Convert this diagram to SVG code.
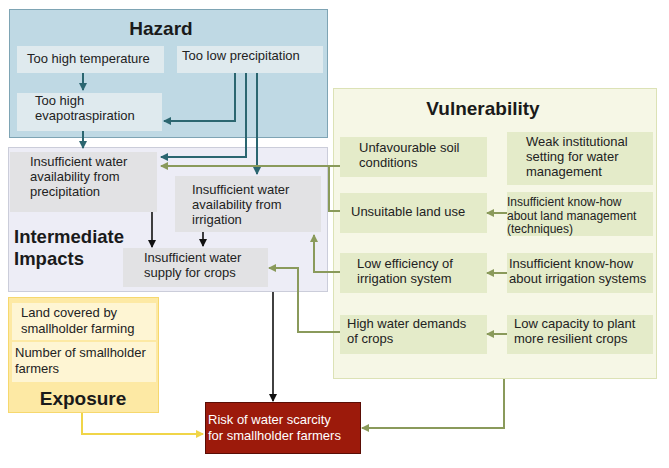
<svg xmlns="http://www.w3.org/2000/svg" width="669" height="468" viewBox="0 0 669 468">
  <defs>
    <marker id="ah-teal" markerWidth="8" markerHeight="8" refX="7" refY="4" orient="auto" markerUnits="userSpaceOnUse">
      <path d="M0,0 L8,4 L0,8 Z" fill="#2b6670"/>
    </marker>
    <marker id="ah-green" markerWidth="8" markerHeight="8" refX="7" refY="4" orient="auto" markerUnits="userSpaceOnUse">
      <path d="M0,0 L8,4 L0,8 Z" fill="#8a9a5b"/>
    </marker>
    <marker id="ah-black" markerWidth="8" markerHeight="8" refX="7" refY="4" orient="auto" markerUnits="userSpaceOnUse">
      <path d="M0,0 L8,4 L0,8 Z" fill="#111"/>
    </marker>
    <marker id="ah-yellow" markerWidth="8" markerHeight="8" refX="7" refY="4" orient="auto" markerUnits="userSpaceOnUse">
      <path d="M0,0 L8,4 L0,8 Z" fill="#f0d548"/>
    </marker>
  </defs>
  <style>
    text { font-family: "Liberation Sans", Arial, sans-serif; font-size: 13px; fill: #222; }
    .title { font-weight: bold; font-size: 19px; fill: #1a1a1a; }
    .small { font-size: 12px; }
    .hz-box { fill: #bfd9e4; stroke: #7ea4b4; stroke-width: 1; }
    .hz-item { fill: #dfeaee; }
    .im-box { fill: #ededf6; stroke: #cbcdda; stroke-width: 1; }
    .im-item { fill: #e2e2e4; }
    .vu-box { fill: #f6f7e6; stroke: #dce2b6; stroke-width: 1; }
    .vu-item { fill: #e4ebc9; }
    .ex-box { fill: #fde9a4; stroke: #f6d86e; stroke-width: 1; }
    .ex-item { fill: #fef5d3; }
    .risk-box { fill: #9c1a0b; stroke: #5a0d05; stroke-width: 1; }
    .risk-text { fill: #ffffff; }
    .c-teal { fill: none; stroke: #2b6670; stroke-width: 2; }
    .c-green { fill: none; stroke: #8a9a5b; stroke-width: 2; }
    .c-black { fill: none; stroke: #111; stroke-width: 1.6; }
    .c-yellow { fill: none; stroke: #f0d548; stroke-width: 2; }
  </style>

  <!-- Hazard panel -->
  <g id="hazard">
    <rect class="hz-box" x="9.5" y="9.5" width="318" height="128"/>
    <text class="title" x="161" y="35" text-anchor="middle">Hazard</text>
  </g>
  <g id="too-high-temperature">
    <rect class="hz-item" x="17" y="46" width="147" height="27"/>
    <text x="27" y="63">Too high temperature</text>
  </g>
  <g id="too-low-precipitation">
    <rect class="hz-item" x="177" y="46" width="146" height="27"/>
    <text x="182" y="60">Too low precipitation</text>
  </g>
  <g id="too-high-evapotraspiration">
    <rect class="hz-item" x="17" y="93" width="145" height="38"/>
    <text x="35" y="105">Too high</text>
    <text x="35" y="120">evapotraspiration</text>
  </g>

  <!-- Intermediate impacts panel -->
  <g id="intermediate-impacts">
    <rect class="im-box" x="8.5" y="147.5" width="319" height="144"/>
    <text class="title" x="14" y="243" style="font-size:18.5px">Intermediate</text>
    <text class="title" x="14" y="265" style="font-size:18.5px">Impacts</text>
  </g>
  <g id="water-from-precipitation">
    <rect class="im-item" x="10" y="152" width="147" height="60"/>
    <text x="30" y="166">Insufficient water</text>
    <text x="30" y="181">availability from</text>
    <text x="30" y="196">precipitation</text>
  </g>
  <g id="water-from-irrigation">
    <rect class="im-item" x="175" y="176" width="146" height="56"/>
    <text x="192" y="194">Insufficient water</text>
    <text x="192" y="209">availability from</text>
    <text x="192" y="224">irrigation</text>
  </g>
  <g id="water-supply-for-crops">
    <rect class="im-item" x="123" y="248" width="145" height="39"/>
    <text x="144" y="262">Insufficient water</text>
    <text x="144" y="277">supply for crops</text>
  </g>

  <!-- Vulnerability panel -->
  <g id="vulnerability">
    <rect class="vu-box" x="333.5" y="88.5" width="323" height="290"/>
    <text class="title" x="483" y="115" text-anchor="middle">Vulnerability</text>
  </g>
  <g id="unfavourable-soil">
    <rect class="vu-item" x="340" y="137" width="147" height="40"/>
    <text x="359" y="152">Unfavourable soil</text>
    <text x="359" y="167">conditions</text>
  </g>
  <g id="weak-institutional-setting">
    <rect class="vu-item" x="507" y="132" width="146" height="53"/>
    <text x="526" y="146">Weak institutional</text>
    <text x="526" y="161">setting for water</text>
    <text x="526" y="176">management</text>
  </g>
  <g id="unsuitable-land-use">
    <rect class="vu-item" x="340" y="193" width="147" height="40"/>
    <text x="351" y="216">Unsuitable land use</text>
  </g>
  <g id="land-management-know-how">
    <rect class="vu-item" x="507" y="192" width="146" height="44"/>
    <text class="small" x="507" y="206">Insufficient know-how</text>
    <text class="small" x="507" y="220">about land management</text>
    <text class="small" x="507" y="233">(techniques)</text>
  </g>
  <g id="low-irrigation-efficiency">
    <rect class="vu-item" x="340" y="253" width="147" height="40"/>
    <text x="357" y="268">Low efficiency of</text>
    <text x="357" y="283">irrigation system</text>
  </g>
  <g id="irrigation-know-how">
    <rect class="vu-item" x="507" y="253" width="146" height="40"/>
    <text x="509" y="268">Insufficient know-how</text>
    <text x="509" y="283">about irrigation systems</text>
  </g>
  <g id="high-water-demands">
    <rect class="vu-item" x="340" y="315" width="147" height="39"/>
    <text x="347" y="328">High water demands</text>
    <text x="347" y="343">of crops</text>
  </g>
  <g id="low-capacity-resilient-crops">
    <rect class="vu-item" x="507" y="315" width="146" height="39"/>
    <text x="514" y="328">Low capacity to plant</text>
    <text x="514" y="343">more resilient crops</text>
  </g>

  <!-- Exposure panel -->
  <g id="exposure">
    <rect class="ex-box" x="8.5" y="297.5" width="150" height="115"/>
    <text class="title" x="83" y="405" text-anchor="middle">Exposure</text>
  </g>
  <g id="land-covered">
    <rect class="ex-item" x="12" y="303" width="144" height="37"/>
    <text x="21" y="317">Land covered by</text>
    <text x="21" y="333">smallholder farming</text>
  </g>
  <g id="number-of-farmers">
    <rect class="ex-item" x="12" y="342" width="144" height="40"/>
    <text x="15" y="357">Number of smallholder</text>
    <text x="15" y="373">farmers</text>
  </g>

  <!-- Outcome -->
  <g id="risk-of-water-scarcity">
    <rect class="risk-box" x="205.5" y="402.5" width="155" height="51"/>
    <text class="risk-text" x="208" y="424">Risk of water scarcity</text>
    <text class="risk-text" x="208" y="440">for smallholder farmers</text>
  </g>

  <!-- Connectors -->
  <g id="connectors">
    <!-- hazard chain -->
    <path class="c-teal" d="M83,73 V90" marker-end="url(#ah-teal)"/>
    <path class="c-teal" d="M83,131 V148" marker-end="url(#ah-teal)"/>
    <path class="c-teal" d="M235,73 V121 H164" marker-end="url(#ah-teal)"/>
    <path class="c-teal" d="M246,73 V157 H161" marker-end="url(#ah-teal)"/>
    <path class="c-teal" d="M257,73 V174" marker-end="url(#ah-teal)"/>

    <!-- intermediate impacts to supply -->
    <path class="c-black" d="M152,212 V247" marker-end="url(#ah-black)"/>
    <path class="c-black" d="M203,232 V246" marker-end="url(#ah-black)"/>
    <path class="c-black" d="M273,292 V401" marker-end="url(#ah-black)"/>

    <!-- vulnerability links -->
    <path class="c-green" d="M340,166 H161" marker-end="url(#ah-green)"/>
    <path class="c-green" d="M340,211 H329 V166"/>
    <path class="c-green" d="M340,272 H314 V235" marker-end="url(#ah-green)"/>
    <path class="c-green" d="M340,332 H298 V268 H269" marker-end="url(#ah-green)"/>
    <path class="c-green" d="M507,213 H487" marker-end="url(#ah-green)"/>
    <path class="c-green" d="M507,273 H487" marker-end="url(#ah-green)"/>
    <path class="c-green" d="M507,334 H487" marker-end="url(#ah-green)"/>
    <path class="c-green" d="M504,379 V428 H362" marker-end="url(#ah-green)"/>

    <!-- exposure link -->
    <path class="c-yellow" d="M82,413 V434 H203" marker-end="url(#ah-yellow)"/>
  </g>
</svg>
